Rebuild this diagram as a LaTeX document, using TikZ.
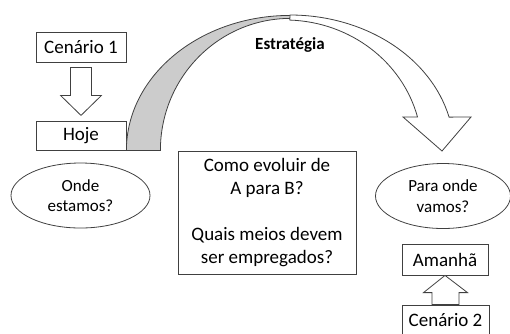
\documentclass[tikz,border=0pt]{standalone}
\usepackage{fontspec}
\setmainfont{Carlito}
\usetikzlibrary{calc,shapes.geometric}

\tikzset{
	box/.style={draw=black!75, line width=0.8pt, rectangle, align=center, inner sep=0pt, font=\fontsize{19}{23}\selectfont},
	bubble/.style={draw=black!75, line width=0.8pt, ellipse, align=center, inner sep=0pt, font=\fontsize{17}{20.5}\selectfont},
	blockarrow/.style={draw=black!75, line width=0.8pt, fill=white, line join=miter},
}

\begin{document}
\begin{tikzpicture}[x=1pt, y=-1pt]
	\useasboundingbox (0,0) rectangle (510,333);
	% left side
	\node[box, minimum width=90, minimum height=30] (cen1) at (81,47) {Cenário 1};
	\node[box, minimum width=90, minimum height=29] (hoje) at (81,135.5) {Hoje};
	\node[bubble, minimum width=139, minimum height=65] (onde) at (80.5,195.5) {Onde\\estamos?};
	\draw[blockarrow] ($(cen1.south)+(-10.5,5)$) -- ++(21,0) -- ++(0,28) -- ++(10,0) -- ++(-20.5,20) -- ++(-20.5,-20) -- ++(10,0) -- cycle;
	% middle
	\node[box, minimum width=178, minimum height=123] (meio) at (267,212.5) {Como evoluir de\\A para B?\\[23pt]Quais meios devem\\ser empregados?};
	% curved arrow
	\filldraw[fill=gray!40, draw=black!75, line width=0.8pt] (hoje.south east) arc[start angle=180, end angle=270, x radius=164, y radius=135] -- ++(0,3) arc[start angle=270, end angle=180, x radius=130, y radius=132] -- cycle;
	\filldraw[fill=white, draw=black!75, line width=0.8pt, line join=miter] (290,15) arc[start angle=270, end angle=345.9, x radius=164, y radius=135] -- (471,117) -- (442,151) -- (403,117) -- (417.5,117) arc[start angle=345.3, end angle=272, x radius=137, y radius=130] -- cycle;
	\node[font=\bfseries\fontsize{17}{20}\selectfont] (estr) at (290,45) {Estratégia};
	% right side
	\node[bubble, minimum width=135, minimum height=65] (para) at (443,196) {Para onde\\vamos?};
	\node[box, minimum width=86, minimum height=31] (amanha) at (445,259.5) {Amanhã};
	\node[box, minimum width=87, minimum height=30] (cen2) at (445.5,320) {Cenário 2};
	\draw[blockarrow] ($(cen2.north)+(-13.5,0)$) -- ++(27,0) -- ++(0,-12) -- ++(8.5,0) -- (amanha.south) -- ($(cen2.north)+(-22,-12)$) -- ++(8.5,0) -- cycle;
\end{tikzpicture}
\end{document}
